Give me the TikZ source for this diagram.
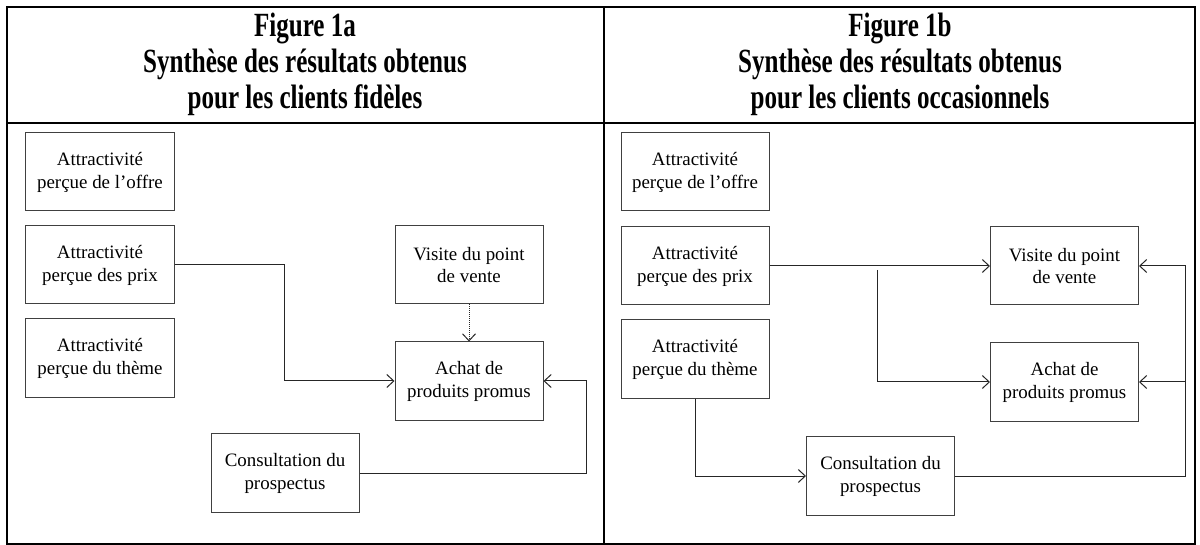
\documentclass[tikz,border=0pt]{standalone}
\usepackage{fontspec}
\setmainfont{Liberation Serif}
\newfontfamily\headfont[FakeStretch=0.74]{Liberation Serif}
\usetikzlibrary{arrows.meta}

\begin{document}
\begin{tikzpicture}[x=1bp,y=1bp,
    box/.style={draw=black!75, line width=1bp, minimum width=148bp, minimum height=78bp,
      inner sep=0pt, align=center, font=\fontsize{19}{23}\selectfont},
    head/.style={align=center, inner sep=0pt, font=\headfont\fontsize{34}{36}\selectfont\bfseries},
    link/.style={draw=black!85, line width=1bp, -{Straight Barb[length=7bp,width=13bp]}}]
    \useasboundingbox (0,0) rectangle (1200,-545);
    % frame
    \draw [line width=2.5bp] (7,-7) rectangle (1195,-544);
    \draw [line width=2.5bp] (7,-123) -- (1195,-123);
    \draw [line width=2.5bp] (604,-7) -- (604,-544);
    \node [head] (titleA) at (305,-64) {Figure 1a\\Synthèse des résultats obtenus\\pour les clients fidèles};
    \node [head] (titleB) at (900,-64) {Figure 1b\\Synthèse des résultats obtenus\\pour les clients occasionnels};
    % figure 1a
    \node [box] (offreA) at (100,-172) {Attractivité\\perçue de l’offre};
    \node [box] (prixA) at (100,-265) {Attractivité\\perçue des prix};
    \node [box] (themeA) at (100,-358) {Attractivité\\perçue du thème};
    \node [box] (visiteA) at (469,-265) {Visite du point\\de vente};
    \node [box] (achatA) at (469,-381) {Achat de\\produits promus};
    \node [box] (consultA) at (285,-473) {Consultation du\\prospectus};
    \draw [link] (prixA.east) -- ++(110,0) |- (achatA.west);
    \draw [link, densely dotted] (visiteA) -- (achatA);
    \draw [link] (consultA.east) -- ++(227,0) |- (achatA.east);
    % figure 1b
    \node [box] (offreB) at (695,-172) {Attractivité\\perçue de l’offre};
    \node [box] (prixB) at (695,-266) {Attractivité\\perçue des prix};
    \node [box] (themeB) at (695,-359) {Attractivité\\perçue du thème};
    \node [box] (visiteB) at (1064.5,-266) {Visite du point\\de vente};
    \node [box] (achatB) at (1064.5,-382) {Achat de\\produits promus};
    \node [box] (consultB) at (880.5,-476) {Consultation du\\prospectus};
    \coordinate (forkB) at ([shift={(108,-4)}]prixB.east);
    \coordinate (backB) at ([shift={(230,0)}]consultB.east);
    \draw [link] (prixB) -- (visiteB);
    \draw [link] (forkB) |- (achatB.west);
    \draw [link] (themeB.south) |- (consultB.west);
    \draw [link] (consultB.east) -- (backB) |- (visiteB.east);
    \draw [link] (backB |- achatB.east) -- (achatB.east);
\end{tikzpicture}
\end{document}
